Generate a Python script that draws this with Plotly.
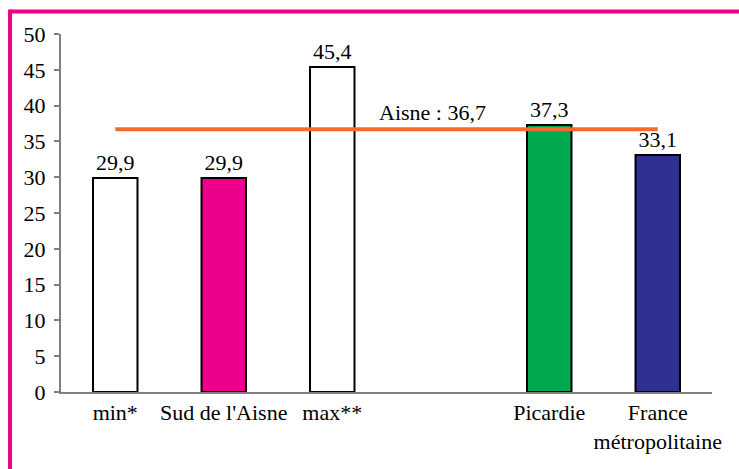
import plotly.graph_objects as go

categories = ["min*", "Sud de l'Aisne", "max**", " ", "Picardie", "France<br>métropolitaine"]
values = [29.9, 29.9, 45.4, None, 37.3, 33.1]
value_labels = ["29,9", "29,9", "45,4", "", "37,3", "33,1"]
bar_colors = ["#FFFFFF", "#EC008C", "#FFFFFF", "#FFFFFF", "#00A84F", "#2E3192"]
aisne_value = 36.7
aisne_label = "Aisne : 36,7"
y_ticks = [0, 5, 10, 15, 20, 25, 30, 35, 40, 45, 50]

FONT = "Liberation Serif"
FS = 22

fig = go.Figure()
fig.add_trace(go.Bar(
    x=categories, y=values,
    marker=dict(color=bar_colors, line=dict(color="#000000", width=2)),
    text=value_labels, textposition="outside", cliponaxis=False,
    textfont=dict(family=FONT, size=FS, color="#000000"),
    showlegend=False,
))
fig.add_trace(go.Scatter(
    x=categories, y=[aisne_value] * len(categories),
    mode="lines", line=dict(color="#F26B2A", width=4),
    showlegend=False, hoverinfo="skip",
))
fig.add_annotation(
    x=2.92, y=aisne_value, yshift=17, text=aisne_label, showarrow=False,
    font=dict(family=FONT, size=FS, color="#000000"),
)

# pink frame (top and left edges)
fig.add_shape(type="line", xref="paper", yref="paper", x0=-0.0783, x1=1.1,
              y0=1.0628, y1=1.0628, line=dict(color="#EC008C", width=4))
fig.add_shape(type="line", xref="paper", yref="paper", x0=-0.0783, x1=-0.0783,
              y0=1.0685, y1=-0.3, line=dict(color="#EC008C", width=4))

fig.update_layout(
    width=739, height=469,
    margin=dict(l=61, r=27, t=34, b=77),
    paper_bgcolor="#FFFFFF", plot_bgcolor="#FFFFFF",
    bargap=0.59,
    font=dict(family=FONT, size=FS, color="#000000"),
    xaxis=dict(
        type="category", showgrid=False, showline=True, linecolor="#808080",
        linewidth=2, ticks="", tickfont=dict(family=FONT, size=FS),
    ),
    yaxis=dict(
        range=[0, 50], tickvals=y_ticks, showgrid=False, zeroline=False,
        showline=True, linecolor="#808080", linewidth=2, ticks="outside",
        ticklen=5, tickcolor="#808080", tickwidth=2,
        tickfont=dict(family=FONT, size=FS), ticklabelstandoff=4,
    ),
)

fig.write_html(
    "out.html",
    config={"displayModeBar": False},
    post_script="document.body.style.margin='0';document.body.style.overflow='hidden';",
)
